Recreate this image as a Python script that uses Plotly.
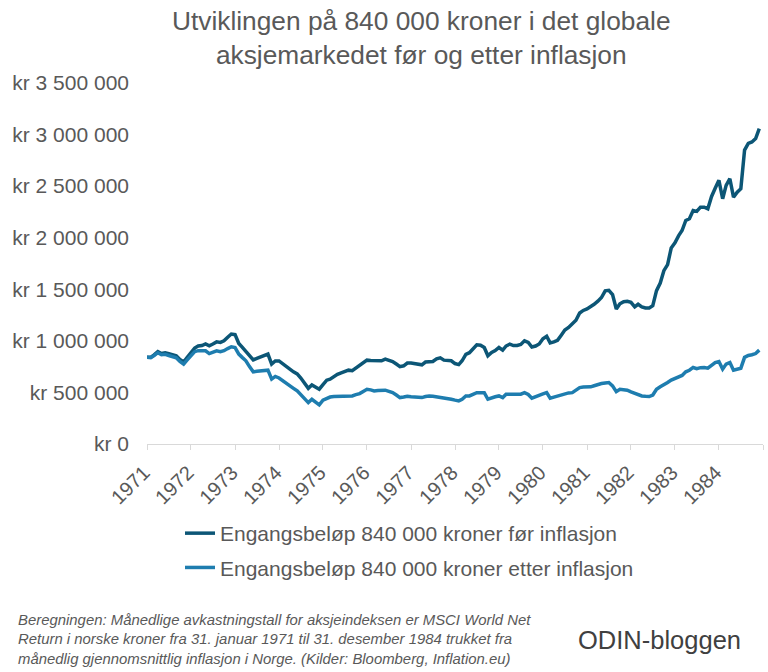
import pandas as pd
import plotly.graph_objects as go

# Monthly values (thousand NOK), Jan 1971 - Dec 1984
nominal_k = [
    840, 840, 865, 895, 877, 885, 875, 865, 855, 820, 795, 840,
    890, 930, 950, 955, 970, 952, 970, 990, 985, 1000, 1035, 1066,
    1060, 975, 940, 900, 860, 815, 830, 845, 860, 872, 775, 805,
    805, 775, 750, 726, 700, 680, 640, 590, 540, 573, 547, 531,
    575, 619, 629, 655, 675, 690, 705, 716, 710, 735, 755, 785,
    813, 810, 807, 807, 807, 823, 812, 800, 775, 750, 758, 785,
    785, 780, 775, 768, 795, 800, 800, 825, 835, 813, 810, 807,
    780, 770, 807, 870, 885, 925, 962, 958, 936, 855, 887, 905,
    936, 910, 950, 969, 955, 955, 965, 1000, 985, 940, 950, 970,
    1020, 1045, 980, 990, 1005, 1055, 1105, 1130, 1160, 1200, 1270, 1295,
    1310, 1330, 1355, 1385, 1420, 1485, 1490, 1448, 1309, 1360, 1380, 1383,
    1373, 1330, 1355, 1330, 1319, 1319, 1341, 1487, 1560, 1680, 1740, 1900,
    1950, 2020, 2070, 2167, 2184, 2264, 2255, 2296, 2296, 2280, 2400, 2480,
    2556, 2378, 2507, 2572, 2394, 2442, 2475, 2850, 2915, 2928, 2961, 3058,
]
real_k = [
    840, 836, 858, 885, 865, 870, 858, 845, 835, 800, 775, 815,
    860, 895, 905, 905, 904, 877, 890, 904, 895, 905, 925, 943,
    935, 872, 840, 807, 750, 700, 705, 710, 714, 716, 629, 655,
    640, 612, 590, 564, 540, 515, 480, 440, 401, 434, 411, 380,
    425, 445, 455, 460, 462, 466, 466, 466, 466, 478, 489, 510,
    531, 525, 515, 518, 520, 522, 510, 498, 475, 450, 455, 463,
    458, 455, 452, 450, 460, 466, 462, 457, 455, 450, 442, 434,
    425, 418, 434, 466, 466, 480, 498, 498, 498, 434, 450, 458,
    466, 450, 483, 483, 483, 483, 483, 498, 480, 444, 455, 466,
    485, 498, 444, 455, 466, 480, 489, 495, 498, 520, 547, 552,
    554, 554, 565, 580, 586, 592, 596, 564, 508, 531, 528, 522,
    505, 489, 475, 466, 462, 460, 475, 531, 555, 580, 596, 620,
    635, 650, 665, 700, 715, 742, 730, 740, 742, 735, 765, 790,
    800, 726, 775, 790, 716, 725, 735, 840, 858, 865, 877, 910,
]
years = [str(y) for y in range(1971, 1985)]
y_ticks = [0, 500000, 1000000, 1500000, 2000000, 2500000, 3000000, 3500000]
y_labels = ["kr 0", "kr 500 000", "kr 1 000 000", "kr 1 500 000", "kr 2 000 000",
            "kr 2 500 000", "kr 3 000 000", "kr 3 500 000"]
series_names = ["Engangsbeløp 840 000 kroner før inflasjon",
                "Engangsbeløp 840 000 kroner etter inflasjon"]

dates = pd.date_range("1971-01-01", periods=len(nominal_k), freq="MS")
nominal = [v * 1000 for v in nominal_k]
real = [v * 1000 for v in real_k]

FONT = "Liberation Sans, Arial, sans-serif"
GREY = "#595959"
L, T, PW, PH = 147, 83, 616, 361


def px(x):
    return (x - L) / PW


def py(y):
    return (T + PH - y) / PH


fig = go.Figure()
fig.add_trace(go.Scatter(x=dates, y=nominal, mode="lines", name=series_names[0],
                         line=dict(color="#0C5676", width=3.5), legendgroup="a",
                         cliponaxis=False))
fig.add_trace(go.Scatter(x=dates, y=real, mode="lines", name=series_names[1],
                         line=dict(color="#1E7DAF", width=3.5), legendgroup="b",
                         cliponaxis=False))

tickvals = [f"{y}-01-01" for y in years] + ["1985-01-01"]
ticktext = years + [""]

fig.update_layout(
    width=768, height=672,
    margin=dict(l=L, r=768 - L - PW, t=T, b=672 - T - PH, autoexpand=False),
    paper_bgcolor="white", plot_bgcolor="white",
    font=dict(family=FONT, color=GREY),
    showlegend=True,
    legend=dict(x=px(180), y=py(513), xanchor="left", yanchor="top",
                font=dict(size=21, color=GREY, family=FONT),
                traceorder="grouped", tracegroupgap=4, bgcolor="rgba(0,0,0,0)"),
    xaxis=dict(type="date", range=["1971-01-01", "1985-01-01"], automargin=False,
               tickvals=tickvals, ticktext=ticktext, tickangle=-45,
               tickfont=dict(size=20, color=GREY, family=FONT),
               ticklabelstandoff=3, ticklabelshift=-3,
               showgrid=False, zeroline=False,
               showline=True, linecolor="#D9D9D9", linewidth=1,
               ticks="outside", ticklen=5, tickcolor="#D9D9D9"),
    yaxis=dict(range=[0, 3500000], tickvals=y_ticks, ticktext=y_labels, automargin=False,
               tickfont=dict(size=21, color=GREY, family=FONT),
               showgrid=False, zeroline=False, showline=False, ticks="",
               ticklabelstandoff=17),
)

fig.add_annotation(
    text="Utviklingen på 840 000 kroner i det globale<br>aksjemarkedet før og etter inflasjon",
    xref="paper", yref="paper", x=px(421), y=py(4), xanchor="center", yanchor="top",
    showarrow=False, align="center", font=dict(size=26.3, color=GREY, family=FONT))
fig.add_annotation(
    text=("<i>Beregningen: Månedlige avkastningstall for aksjeindeksen er MSCI World Net<br>"
          "Return i norske kroner fra 31. januar 1971 til 31. desember 1984 trukket fra<br>"
          "månedlig gjennomsnittlig inflasjon i Norge. (Kilder: Bloomberg, Inflation.eu)</i>"),
    xref="paper", yref="paper", x=px(16), y=py(610),
    xanchor="left", yanchor="top", align="left", showarrow=False,
    font=dict(size=14.9, color=GREY, family=FONT))
fig.add_annotation(
    text="ODIN-bloggen", xref="paper", yref="paper",
    x=px(659), y=py(640), xanchor="center", yanchor="middle",
    showarrow=False, font=dict(size=25.5, color="#404040", family=FONT))

fig.write_html("out.html", config={"displayModeBar": False},
               post_script="document.body.style.margin='0';document.body.style.padding='0';")
